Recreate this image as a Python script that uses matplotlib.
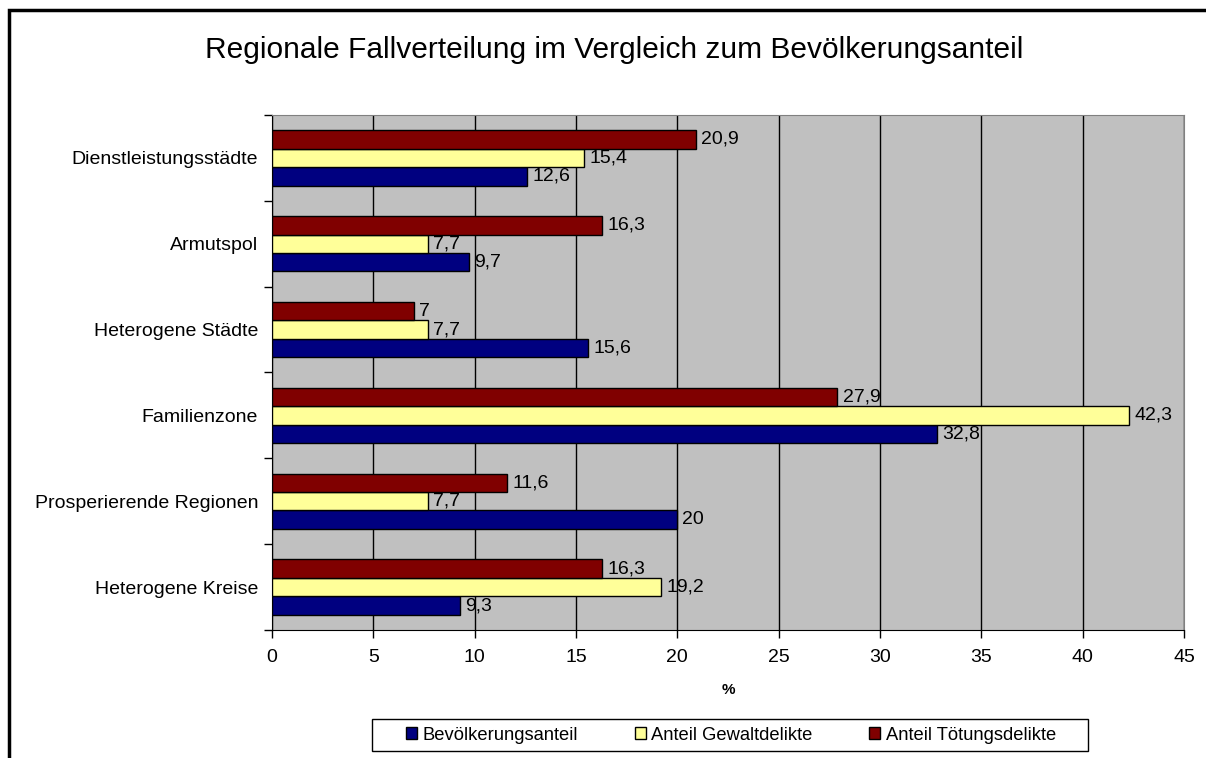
import matplotlib.pyplot as plt
import matplotlib.patches as mpatches
import numpy as np

# Daten
regionen = ['Heterogene Kreise', 'Prosperierende Regionen', 'Familienzone',
            'Heterogene Städte', 'Armutspol', 'Dienstleistungsstädte']
bevoelkerung = [9.3, 20, 32.8, 15.6, 9.7, 12.6]
gewalt = [19.2, 7.7, 42.3, 7.7, 7.7, 15.4]
toetung = [16.3, 11.6, 27.9, 7, 16.3, 20.9]

serien = ['Bevölkerungsanteil', 'Anteil Gewaltdelikte', 'Anteil Tötungsdelikte']
farben = ['#000080', '#FFFF99', '#800000']

plt.rcParams['font.family'] = ['Liberation Sans', 'DejaVu Sans']

fig = plt.figure(figsize=(12.06, 7.58), dpi=100)
ax = fig.add_axes([272 / 1206, 1 - 630 / 758, 912 / 1206, 515 / 758])

# Rahmen um die Grafik
fig.patches.append(mpatches.Rectangle((9 / 1206, -0.1), 1.2, 1 - 10 / 758 + 0.1,
                                      transform=fig.transFigure, fill=False,
                                      edgecolor='black', linewidth=2.5))

y = np.arange(len(regionen))
h = 0.215
werte = [bevoelkerung, gewalt, toetung]
for k, (vals, name, col) in enumerate(zip(werte, serien, farben)):
    pos = y + (k - 1) * h
    ax.barh(pos, vals, height=h, color=col, edgecolor='black', linewidth=1,
            label=name, zorder=3)
    for p, v in zip(pos, vals):
        txt = ('%g' % v).replace('.', ',')
        ax.text(v + 0.25, p, txt, va='center', ha='left', fontsize=14, zorder=4)

ax.set_facecolor('#C0C0C0')
ax.set_xlim(0, 45)
ax.set_ylim(-0.5, len(regionen) - 0.5)
ax.set_xticks(range(0, 46, 5))
ax.xaxis.grid(True, color='black', linewidth=1, zorder=1)
ax.set_yticks(y)
ax.set_yticklabels(regionen, fontsize=14)
ax.set_yticks(np.arange(-0.5, len(regionen)), minor=True)
ax.tick_params(axis='y', which='major', length=0, pad=10)
ax.tick_params(axis='y', which='minor', length=6, width=1, direction='out')
ax.tick_params(axis='x', length=6, width=1, direction='out', labelsize=14, pad=8)

for s in ['top', 'right']:
    ax.spines[s].set_color('#808080')
for s in ['left', 'bottom']:
    ax.spines[s].set_color('black')

ax.set_xlabel('%', fontsize=11, fontweight='bold', labelpad=12)

fig.text(614 / 1206, 1 - 50 / 758, 'Regionale Fallverteilung im Vergleich zum Bevölkerungsanteil',
         ha='center', va='center', fontsize=21.5)

# Legende ohne eigenen Rahmen, Rahmen separat
leg = fig.legend(loc='center', bbox_to_anchor=(731 / 1206, 1 - 735 / 758), ncol=3,
                 fontsize=13.2, frameon=False,
                 handlelength=0.6, handleheight=0.6, handletextpad=0.3,
                 columnspacing=3.1, borderpad=0.4, borderaxespad=0)
fig.patches.append(mpatches.Rectangle((372 / 1206, 1 - 751 / 758), 716 / 1206, 32 / 758,
                                      transform=fig.transFigure, fill=False,
                                      edgecolor='black', linewidth=1))

plt.savefig('out.png', dpi=100)
